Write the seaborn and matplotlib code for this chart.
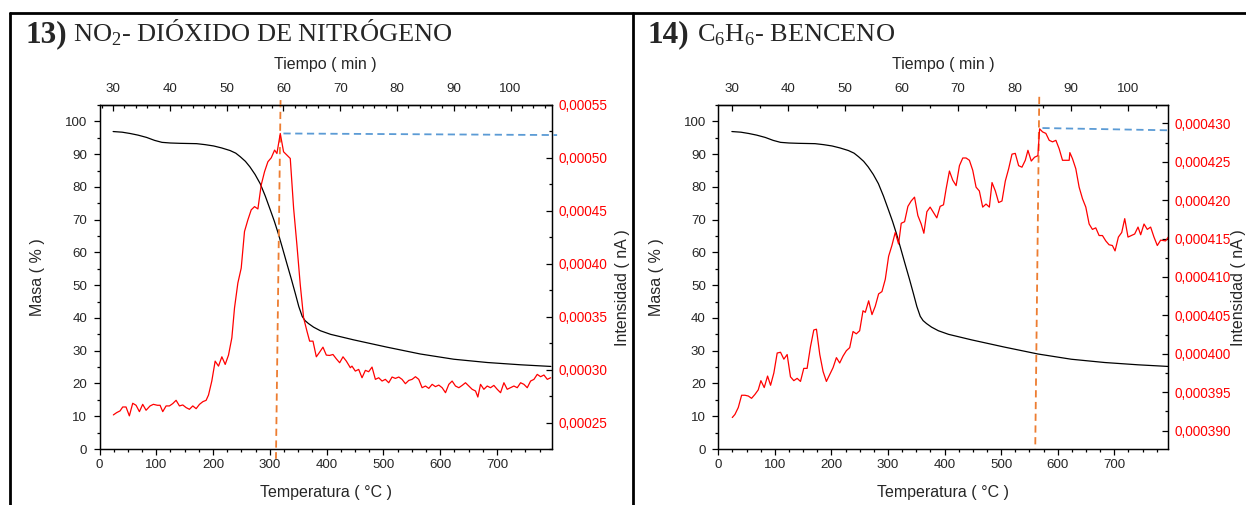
import matplotlib
matplotlib.use("Agg")
import matplotlib.pyplot as plt
import seaborn as sns
from matplotlib.ticker import MultipleLocator, FuncFormatter
from matplotlib.lines import Line2D

# ---------------- data ----------------
mass_T = [24, 40, 54, 68, 83, 97, 110, 125, 142, 171, 186, 201, 215, 230, 240, 248, 257,
          265, 274, 283, 292, 301, 308, 315, 322, 330, 338, 345, 351, 357, 362, 368, 377,
          389, 407, 448, 506, 565, 624, 683, 742, 795]
mass_pct = [96.9, 96.7, 96.3, 95.8, 95.1, 94.2, 93.6, 93.4, 93.3, 93.2, 92.9, 92.5, 91.9,
            91.1, 90.3, 89.2, 87.8, 86.1, 83.8, 81.0, 77.2, 72.9, 69.5, 65.7, 61.5, 56.6,
            51.8, 47.4, 43.5, 40.5, 39.2, 38.3, 37.2, 36.1, 35.0, 33.3, 31.1, 29.0, 27.4,
            26.4, 25.7, 25.2]

no2_T = [24.4, 30.3, 36.2, 40.9, 46.7, 52.6, 58.5, 64.4, 70.3, 76.1, 82.0, 89.1, 94.9,
         102.0, 106.7, 111.4, 117.3, 123.2, 129.0, 134.9, 140.8, 146.7, 152.6, 158.4,
         164.3, 170.2, 176.1, 182.0, 187.8, 192.0, 197.8, 203.7, 209.6, 215.5, 221.4,
         227.2, 233.1, 237.8, 243.7, 249.6, 255.4, 261.3, 267.2, 273.1, 279.0, 284.8,
         290.7, 296.6, 302.5, 308.4, 312.5, 318.4, 324.2, 330.1, 336.0, 341.9, 347.7,
         353.6, 359.5, 365.4, 370.1, 376.0, 381.9, 387.7, 393.6, 399.5, 405.4, 411.2,
         417.1, 423.0, 428.9, 434.8, 441.8, 444.7, 450.6, 456.5, 462.4, 468.3, 474.1,
         480.0, 485.9, 491.8, 497.7, 503.5, 509.4, 515.3, 521.2, 527.1, 532.9, 538.8,
         544.7, 550.6, 556.5, 562.3, 568.2, 574.1, 580.0, 585.9, 591.7, 597.6, 603.5,
         609.4, 615.3, 621.1, 627.0, 632.9, 638.8, 644.6, 650.5, 656.4, 662.3, 666.4,
         671.1, 677.0, 682.9, 688.7, 694.6, 700.5, 706.4, 712.3, 718.1, 724.0, 729.9,
         735.8, 741.7, 747.5, 753.4, 759.3, 765.2, 771.0, 776.9, 782.8, 788.7, 794.6]
no2_I = [0.0002572, 0.0002594, 0.0002610, 0.0002647, 0.0002647, 0.0002563, 0.0002682,
         0.0002663, 0.0002603, 0.0002672, 0.0002616, 0.0002657, 0.0002672, 0.0002663,
         0.0002663, 0.0002603, 0.0002657, 0.0002657, 0.0002679, 0.0002710, 0.0002657,
         0.0002666, 0.0002641, 0.0002625, 0.0002657, 0.0002631, 0.0002672, 0.0002697,
         0.0002710, 0.0002760, 0.0002892, 0.0003080, 0.0003033, 0.0003121, 0.0003049,
         0.0003137, 0.0003300, 0.0003583, 0.0003818, 0.0003959, 0.0004305, 0.0004414,
         0.0004509, 0.0004540, 0.0004518, 0.0004744, 0.0004870, 0.0004964, 0.0005001,
         0.0005074, 0.0005042, 0.0005231, 0.0005058, 0.0005027, 0.0004995, 0.0004524,
         0.0004179, 0.0003802, 0.0003489, 0.0003363, 0.0003269, 0.0003269, 0.0003121,
         0.0003165, 0.0003212, 0.0003137, 0.0003134, 0.0003143, 0.0003102, 0.0003065,
         0.0003121, 0.0003080, 0.0003018, 0.0003033, 0.0002986, 0.0003002, 0.0002923,
         0.0002993, 0.0002980, 0.0003024, 0.0002908, 0.0002923, 0.0002892, 0.0002908,
         0.0002876, 0.0002930, 0.0002917, 0.0002930, 0.0002908, 0.0002867, 0.0002898,
         0.0002908, 0.0002933, 0.0002908, 0.0002829, 0.0002845, 0.0002823, 0.0002861,
         0.0002839, 0.0002854, 0.0002829, 0.0002782, 0.0002861, 0.0002892, 0.0002845,
         0.0002829, 0.0002851, 0.0002876, 0.0002845, 0.0002814, 0.0002798, 0.0002741,
         0.0002861, 0.0002814, 0.0002845, 0.0002829, 0.0002851, 0.0002814, 0.0002782,
         0.0002876, 0.0002814, 0.0002829, 0.0002845, 0.0002829, 0.0002876, 0.0002861,
         0.0002829, 0.0002892, 0.0002908, 0.0002955, 0.0002933, 0.0002949, 0.0002908,
         0.0002923]

benz_T = [24.7, 29.4, 35.3, 41.2, 47.1, 53.0, 58.8, 64.7, 70.6, 75.3, 81.2, 87.1, 92.4,
          98.2, 104.1, 110.0, 115.9, 121.7, 127.6, 133.5, 139.4, 145.3, 151.1, 157.0,
          162.9, 168.8, 173.5, 179.4, 185.2, 191.1, 197.0, 202.9, 208.8, 214.6, 220.5,
          226.4, 232.3, 238.2, 244.0, 249.9, 255.8, 259.9, 265.8, 271.7, 277.5, 283.4,
          289.3, 295.2, 301.1, 306.9, 312.8, 318.7, 323.4, 329.3, 335.2, 341.0, 346.9,
          352.8, 358.7, 363.4, 368.7, 374.5, 380.4, 386.3, 392.2, 398.1, 402.8, 408.6,
          414.5, 420.4, 426.3, 432.2, 438.0, 443.9, 449.8, 455.7, 461.5, 467.4, 473.3,
          479.2, 483.9, 489.8, 495.6, 501.5, 507.4, 513.3, 519.2, 525.0, 530.9, 536.8,
          542.7, 547.4, 553.3, 559.1, 565.0, 568.0, 573.2, 579.1, 585.0, 590.9, 596.8,
          602.6, 608.5, 614.4, 620.3, 621.5, 626.2, 632.0, 637.9, 643.8, 649.7, 655.6,
          661.4, 667.3, 673.2, 679.1, 685.0, 690.8, 696.7, 701.4, 707.3, 713.2, 718.5,
          724.3, 730.2, 736.1, 742.0, 746.7, 752.6, 758.4, 764.3, 770.2, 776.1, 782.0,
          790.8, 795.5]
benz_I = [0.0003917, 0.0003921, 0.0003930, 0.0003946, 0.0003946, 0.0003945, 0.0003942,
          0.0003947, 0.0003953, 0.0003965, 0.0003956, 0.0003971, 0.0003959, 0.0003975,
          0.0004001, 0.0004002, 0.0003993, 0.0003999, 0.0003970, 0.0003965, 0.0003968,
          0.0003964, 0.0003981, 0.0003981, 0.0004009, 0.0004031, 0.0004032, 0.0003999,
          0.0003977, 0.0003964, 0.0003973, 0.0003982, 0.0003995, 0.0003988, 0.0003997,
          0.0004004, 0.0004008, 0.0004029, 0.0004026, 0.0004030, 0.0004056, 0.0004054,
          0.0004069, 0.0004051, 0.0004062, 0.0004078, 0.0004081, 0.0004097, 0.0004127,
          0.0004141, 0.0004158, 0.0004143, 0.0004170, 0.0004172, 0.0004192, 0.0004199,
          0.0004204, 0.0004180, 0.0004169, 0.0004157, 0.0004185, 0.0004191, 0.0004184,
          0.0004177, 0.0004192, 0.0004194, 0.0004215, 0.0004238, 0.0004226, 0.0004219,
          0.0004245, 0.0004255, 0.0004255, 0.0004252, 0.0004239, 0.0004217, 0.0004212,
          0.0004191, 0.0004195, 0.0004191, 0.0004223, 0.0004212, 0.0004197, 0.0004199,
          0.0004225, 0.0004241, 0.0004260, 0.0004261, 0.0004245, 0.0004243, 0.0004252,
          0.0004265, 0.0004251, 0.0004256, 0.0004258, 0.0004293, 0.0004289, 0.0004287,
          0.0004278, 0.0004276, 0.0004278, 0.0004267, 0.0004252, 0.0004252, 0.0004252,
          0.0004262, 0.0004254, 0.0004241, 0.0004217, 0.0004202, 0.0004191, 0.0004169,
          0.0004162, 0.0004164, 0.0004154, 0.0004154, 0.0004147, 0.0004142, 0.0004141,
          0.0004134, 0.0004152, 0.0004158, 0.0004176, 0.0004152, 0.0004154, 0.0004156,
          0.0004165, 0.0004155, 0.0004169, 0.0004162, 0.0004165, 0.0004152, 0.0004141,
          0.0004148, 0.0004147, 0.0004152]

# annotation guide lines (peak marker and reference level)
no2_peak_T = [318.9, 310.8]
no2_peak_mass = [106.5, -3.0]
no2_ref_T = [324.0, 806.0]
no2_ref_I = [0.0005231, 0.0005216]
benz_peak_T = [567.4, 560.3]
benz_peak_mass = [107.5, 0.0]
benz_ref_T = [573.0, 800.0]
benz_ref_I = [0.0004294, 0.0004291]

# ---------------- style ----------------
sns.set_style("ticks")
plt.rcParams["font.family"] = ["Liberation Sans", "DejaVu Sans"]
plt.rcParams["mathtext.fontset"] = "custom"
plt.rcParams["mathtext.rm"] = "Liberation Serif"

W, H = 1246, 505
fig = plt.figure(figsize=(W / 100, H / 100), dpi=100)

ORANGE = "#ED7D31"
BLUE = "#5B9BD5"
TICK_FS = 9.6
RTICK_FS = 9.8
LABEL_FS = 11.5


def panel(x0, x1, xmax, I, T, ilim, imajor, ifmt, tminor, peakT, peakM, refT, refI):
    y0, y1 = 105, 449
    ax = fig.add_axes([x0 / W, 1 - y1 / H, (x1 - x0) / W, (y1 - y0) / H])
    sns.lineplot(x=mass_T, y=mass_pct, ax=ax, color="black", linewidth=0.9, sort=False)
    ax.set_xlim(0, xmax)
    ax.set_ylim(0, 105)
    ax.xaxis.set_major_locator(MultipleLocator(100))
    ax.xaxis.set_minor_locator(MultipleLocator(25))
    ax.yaxis.set_major_locator(MultipleLocator(10))
    ax.yaxis.set_minor_locator(MultipleLocator(5))
    ax.tick_params(axis="both", which="major", direction="out", length=4, width=0.9,
                   labelsize=TICK_FS, pad=3, color="black")
    ax.tick_params(axis="both", which="minor", direction="out", length=2.2, width=0.9,
                   color="black")
    ax.tick_params(axis="y", which="major", pad=5)
    ax.set_xlabel("Temperatura ( °C )", fontsize=LABEL_FS, labelpad=10)
    ax.set_ylabel("Masa ( % )", fontsize=LABEL_FS)
    ax.yaxis.set_label_coords(-0.12, 0.5)
    for s in ax.spines.values():
        s.set_linewidth(0.9)
        s.set_color("black")

    ax2 = ax.twinx()
    sns.lineplot(x=T, y=I, ax=ax2, color="#ff0000", linewidth=0.9, sort=False)
    ax2.set_ylim(*ilim)
    ax2.yaxis.set_major_locator(MultipleLocator(imajor))
    ax2.yaxis.set_minor_locator(MultipleLocator(imajor / 2))
    ax2.yaxis.set_major_formatter(FuncFormatter(lambda v, p: ifmt.format(v).replace(".", ",")))
    ax2.tick_params(axis="y", which="major", direction="in", length=4, width=0.9,
                    labelsize=RTICK_FS, labelcolor="#ff0000", pad=4.5, color="black")
    ax2.tick_params(axis="y", which="minor", direction="in", length=2.2, width=0.9,
                    color="black")
    ax2.set_ylabel("Intensidad ( nA )", fontsize=LABEL_FS)
    ax2.yaxis.set_label_coords(1.14, 0.47)
    for s in ax2.spines.values():
        s.set_linewidth(0.9)
        s.set_color("black")

    sec = ax.secondary_xaxis("top", functions=(lambda x: (x + 276) / 10,
                                               lambda t: t * 10 - 276))
    sec.xaxis.set_major_locator(MultipleLocator(10))
    sec.xaxis.set_minor_locator(MultipleLocator(tminor))
    sec.tick_params(which="major", direction="in", length=4, width=0.9,
                    labelsize=TICK_FS, pad=7.5, color="black")
    sec.tick_params(which="minor", direction="in", length=2.2, width=0.9, color="black")
    sec.spines["top"].set_linewidth(0.9)
    sec.set_xlabel("Tiempo ( min )", fontsize=LABEL_FS, labelpad=10)

    ax.plot(peakT, peakM, color=ORANGE, linestyle=(0, (4, 2.5)), linewidth=1.3,
            clip_on=False, zorder=5)
    ax2.plot(refT, refI, color=BLUE, linestyle=(0, (4, 2.5)), linewidth=1.3,
             clip_on=False, zorder=5)
    return ax


panel(99.5, 552, 797, no2_I, no2_T, (0.000225, 0.00055), 0.00005, "{:.5f}", 2,
      no2_peak_T, no2_peak_mass, no2_ref_T, no2_ref_I)
panel(718.3, 1168, 795, benz_I, benz_T, (0.0003876, 0.0004324), 0.000005, "{:.6f}", 5,
      benz_peak_T, benz_peak_mass, benz_ref_T, benz_ref_I)

# titles
ybase = 1 - 42 / H
fig.text(25 / W, ybase, "13)", fontfamily="Liberation Serif", fontweight="bold",
         fontsize=22.5, va="baseline")
fig.text(73 / W, ybase, r"NO$_\mathregular{2}$- DIÓXIDO DE NITRÓGENO",
         fontfamily="Liberation Serif", fontsize=19, va="baseline")
fig.text(648 / W, ybase, "14)", fontfamily="Liberation Serif", fontweight="bold",
         fontsize=22.5, va="baseline")
fig.text(697 / W, ybase, r"C$_\mathregular{6}$H$_\mathregular{6}$- BENCENO",
         fontfamily="Liberation Serif", fontsize=19, va="baseline")

# panel borders
top = 1 - 12.5 / H
for xb in (10, 633):
    fig.add_artist(Line2D([xb / W, xb / W], [0, top], transform=fig.transFigure,
                          color="black", linewidth=2))
fig.add_artist(Line2D([10 / W, 1], [top, top], transform=fig.transFigure,
                      color="black", linewidth=2))

fig.savefig("out.png", dpi=100)
